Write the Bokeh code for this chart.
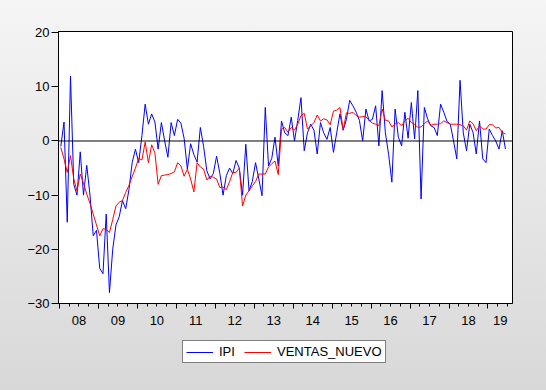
from bokeh.plotting import figure
from bokeh.layouts import column
from bokeh.models import (Range1d, FixedTicker, LinearAxis, Span, Legend, LegendItem)
from bokeh.embed import file_html
from bokeh.resources import INLINE

# ---- data (monthly, 2008M01 .. 2019M06) ----
start_year = 2008
ipi = [
    # 2008
    -1, 3.5, -15, 12, -8, -10, -2, -10, -4.5, -10, -17.5, -16.5,
    # 2009
    -23.5, -24.5, -13.5, -28, -20, -15.5, -14, -11, -12.5, -9, -4, -1.5,
    # 2010
    -4, 1, 6.8, 3.1, 5, 3.5, -1.5, 3.4, 0, -3, 3.4, 1,
    # 2011
    4, 3.3, 0.5, -5.2, -0.5, -2.5, -3.9, 2.5, -1, -5.5, -7, -6,
    # 2012
    -2.8, -6, -10, -6.4, -5, -6, -3.6, -5, -10, -0.6, -9.2, -7.5,
    # 2013
    -4, -7, -10.1, 6.2, -4.6, -3.2, 0.7, -4.6, 3.7, 1.5, 1, 4.4,
    # 2014
    0, 3.8, 8, -1.8, 1.5, 3.1, 2, -2.4, 3.4, 1.5, 0.3, 2.5,
    # 2015
    -2.1, 1.5, 5, 2, 4, 7.5, 6.5, 5.3, 3.8, 0, 5.9, 3.7,
    # 2016
    4, 6.5, -0.9, 9.3, 1.5, -2.5, -7.6, 5.9, 0.7, -0.9, 5.3, 0.5,
    # 2017
    7.1, 0.4, 9.3, -10.7, 6.2, 4.1, 2.8, 2.5, 1, 6.8, 5.3, 3.6,
    # 2018
    3.1, 0, -3.3, 11.2, 1.5, -1.8, 3.1, 1.6, -2.4, 3.7, -3.3, -4,
    # 2019
    2.2, 1, 0, -1.5, 1.9, -1.5,
]
ventas_nuevo = [
    # 2008
    -1.2, -3.3, -5.8, -2.7, -7, -9.2, -6.1, -7.8, -9.8, -11.5, -13.5, -15.5,
    # 2009
    -17.5, -16.2, -16.3, -16.9, -14.5, -12, -11.3, -11, -9.5, -8.2, -6.6, -5,
    # 2010
    -3.2, -3.5, -0.2, -4, -0.7, -2.2, -8, -6.4, -6.3, -6.2, -6, -5.7,
    # 2011
    -4, -4.6, -6.5, -5.2, -7, -9.4, -4, -4.8, -5.2, -7.2, -6.5, -6.7,
    # 2012
    -7, -8.6, -8.5, -9, -7.5, -5.8, -5.8, -5, -12, -10, -9.2, -8.3,
    # 2013
    -7.5, -6.1, -6.1, -6.1, -4.8, -4.2, -3.7, -6.2, 2.2, 2.5, 1.6, 2.5,
    # 2014
    2, 3.1, 4.7, 5.1, 2.2, 2.8, 3.4, 4.8, 3.7, 4.1, 3.9, 3,
    # 2015
    5.5, 5.7, 6.2, 2, 5.2, 5.1, 5.3, 4.7, 4.4, 4.5, 4.5, 3.8,
    # 2016
    3.3, 3.1, 2.8, 5.9, 3.8, 3.7, 2.6, 3.1, 3.4, 2.8, 3.7, 4.2,
    # 2017
    3.4, 3.1, 2.5, 2.6, 3.2, 3.7, 2.9, 3.1, 3.1, 3.2, 3.7, 3.4,
    # 2018
    3.1, 3.1, 3.1, 3, 2.8, 2, 3.7, 3.2, 1.9, 2.8, 2.2, 2.2,
    # 2019
    3.0, 3.0, 2.4, 2.5, 1.6, 1.3,
]
year_labels = ["08", "09", "10", "11", "12", "13", "14", "15", "16", "17", "18", "19"]
y_ticks = [-30, -20, -10, 0, 10, 20]
series_names = ["IPI", "VENTAS_NUEVO"]
colors = ["#0000FF", "#FF0000"]

n = len(ipi)
x = [start_year + (i + 0.4) / 12.0 for i in range(n)]

x_start, x_end = 2007.975, 2019.63
FONT = "Liberation Sans"
W = 546
H1 = 334
H2 = 390 - H1

# ---------------- main chart ----------------
p = figure(width=W, height=H1, output_backend="svg", toolbar_location=None,
           x_range=Range1d(x_start, x_end), y_range=Range1d(-30, 20.215),
           min_border_left=58, min_border_right=34, min_border_top=31,
           min_border_bottom=H1 - 303)
p.border_fill_color = None
p.background_fill_color = "white"
p.outline_line_color = "black"
p.outline_line_width = 1
p.xgrid.visible = False
p.ygrid.visible = False

ya = p.yaxis[0]
ya.ticker = FixedTicker(ticks=y_ticks)
ya.major_tick_out = 7
ya.major_tick_in = 0
ya.minor_tick_out = 0
ya.minor_tick_in = 0
ya.major_tick_line_color = "black"
ya.axis_line_color = "black"
ya.major_label_text_font = FONT
ya.major_label_text_font_size = "13px"
ya.major_label_text_color = "black"
ya.major_label_standoff = 2

years = list(range(2008, 2020))
quarters = [yy + q / 4 for yy in range(2008, 2020) for q in range(4) if yy + q / 4 < x_end]
xa = p.xaxis[0]
xa.ticker = FixedTicker(ticks=years, minor_ticks=quarters)
xa.major_tick_out = 5
xa.major_tick_in = 0
xa.minor_tick_out = 3
xa.minor_tick_in = 0
xa.major_tick_line_color = "black"
xa.minor_tick_line_color = "black"
xa.axis_line_color = "black"
xa.major_label_text_font_size = "0px"
xa.major_label_text_color = None
xa.major_label_standoff = 0

label_pos = [yy + 0.5 for yy in range(2008, 2019)] + [(2019 + x_end) / 2]
xa2 = LinearAxis(ticker=FixedTicker(ticks=label_pos, minor_ticks=[]))
xa2.major_label_overrides = {pos: lab for pos, lab in zip(label_pos, year_labels)}
xa2.major_tick_out = 0
xa2.major_tick_in = 0
xa2.major_tick_line_color = None
xa2.minor_tick_line_color = None
xa2.axis_line_color = None
xa2.major_label_text_font = FONT
xa2.major_label_text_font_size = "13px"
xa2.major_label_text_color = "black"
xa2.major_label_standoff = 7
p.add_layout(xa2, "below")

p.add_layout(Span(location=0, dimension="width", line_color="black", line_width=1))

p.line(x, ipi, line_color=colors[0], line_width=1)
p.line(x, ventas_nuevo, line_color=colors[1], line_width=1)

# ---------------- legend strip ----------------
# the series are drawn here outside the visible range; they only feed the legend glyphs
p2 = figure(width=W, height=H2, output_backend="svg", toolbar_location=None,
            x_axis_type=None, y_axis_type=None,
            x_range=Range1d(0, 1), y_range=Range1d(0, 1),
            min_border_left=0, min_border_right=0, min_border_top=0, min_border_bottom=0)
p2.border_fill_color = None
p2.background_fill_color = None
p2.outline_line_color = None
p2.xgrid.visible = False
p2.ygrid.visible = False
k1 = p2.line(x, ipi, line_color=colors[0], line_width=1)
k2 = p2.line(x, ventas_nuevo, line_color=colors[1], line_width=1)

legend = Legend(items=[LegendItem(label=series_names[0], renderers=[k1]),
                       LegendItem(label=series_names[1], renderers=[k2])],
                orientation="horizontal", location=(124, 27))
legend.label_text_font = FONT
legend.label_text_font_size = "13px"
legend.label_text_color = "black"
legend.border_line_color = "black"
legend.border_line_width = 1
legend.background_fill_color = "white"
legend.background_fill_alpha = 1
legend.glyph_width = 27
legend.glyph_height = 12
legend.label_height = 12
legend.label_standoff = 6
legend.spacing = 5
legend.padding = 3
legend.margin = 0
p2.add_layout(legend, "center")

layout = column(p, p2, spacing=0,
                styles={"background": "linear-gradient(to bottom, #f5f5f5 0%, #d8d8d8 100%)"})

open("out.html", "w").write(file_html(layout, INLINE))
